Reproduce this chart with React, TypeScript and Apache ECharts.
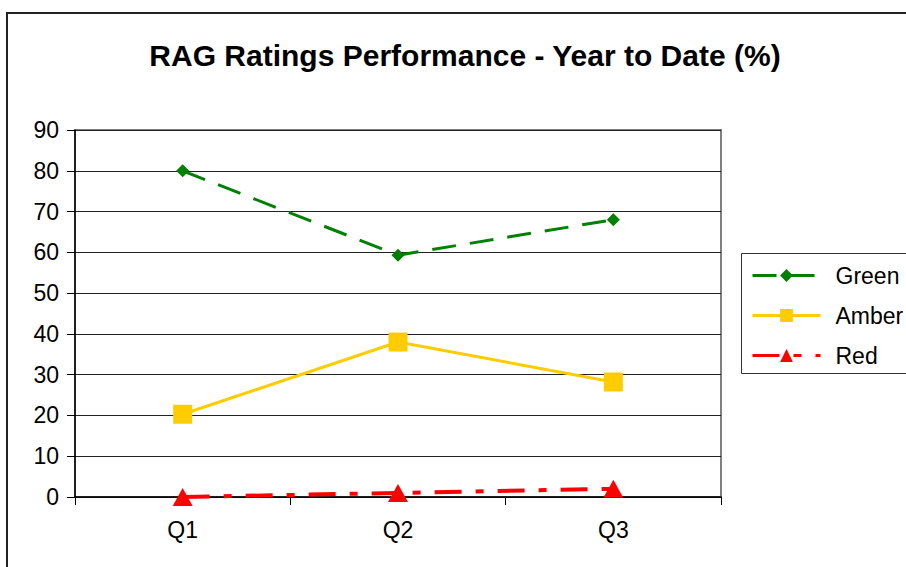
import React, { useEffect, useRef } from "react";
import * as echarts from "echarts";

const categories = ["Q1", "Q2", "Q3"];
const greenValues = [80, 59.3, 68];
const amberValues = [20.3, 38, 28.2];
const redValues = [0, 1, 2];
const titleText = "RAG Ratings Performance - Year to Date (%)";

const FONT = "'Liberation Sans', Arial, sans-serif";

export default function App() {
  const ref = useRef<HTMLDivElement>(null);
  useEffect(() => {
    if (!ref.current) return;
    const chart = echarts.init(ref.current, undefined, { renderer: "svg" });
    chart.setOption({
      animation: false,
      backgroundColor: "#fff",
      textStyle: { fontFamily: FONT },
      title: {
        text: titleText,
        left: 460,
        textAlign: "center",
        top: 35,
        textStyle: { fontSize: 30, fontWeight: "bold", color: "#000", fontFamily: FONT },
      },
      graphic: [
        {
          type: "rect",
          shape: { x: 7, y: 13, width: 1000, height: 1000 },
          style: { fill: "none", stroke: "#222", lineWidth: 2 },
          silent: true,
        },
        {
          type: "rect",
          shape: { x: 741.5, y: 253.5, width: 300, height: 120 },
          style: { fill: "none", stroke: "#333", lineWidth: 1 },
          silent: true,
        },
      ],
      legend: {
        orient: "vertical",
        left: 741,
        top: 258,
        padding: [6, 10, 6, 10],
        itemWidth: 68,
        itemHeight: 16,
        itemGap: 17,
        lineStyle: { width: 3 },
        textStyle: { fontSize: 23, color: "#000", fontFamily: FONT, padding: [0, 0, 0, 10] },
        data: ["Green", "Amber", "Red"],
      },
      grid: {
        left: 75,
        top: 130,
        width: 646,
        height: 367,
        show: true,
        borderColor: "#808080",
        borderWidth: 2,
        containLabel: false,
      },
      xAxis: {
        type: "category",
        data: categories,
        boundaryGap: true,
        axisLine: { lineStyle: { color: "#000", width: 1.5 } },
        axisTick: { show: true, length: 8, lineStyle: { color: "#000" } },
        axisLabel: { fontSize: 23, color: "#000", margin: 21, fontFamily: FONT },
        splitLine: { show: false },
      },
      yAxis: {
        type: "value",
        min: 0,
        max: 90,
        interval: 10,
        axisLine: { show: true, lineStyle: { color: "#000", width: 1.5 } },
        axisTick: { show: true, length: 8, lineStyle: { color: "#000" } },
        axisLabel: { fontSize: 23, color: "#000", margin: 16, fontFamily: FONT },
        splitLine: { show: true, lineStyle: { color: "#222", width: 1 } },
      },
      series: [
        {
          name: "Green",
          type: "line",
          data: greenValues,
          symbol: "diamond",
          symbolSize: 13,
          color: "#008000",
          lineStyle: { color: "#008000", width: 3, type: [24, 14] },
          itemStyle: { color: "#008000" },
        },
        {
          name: "Amber",
          type: "line",
          data: amberValues,
          symbol: "rect",
          symbolSize: 19,
          color: "#FFCC00",
          lineStyle: { color: "#FFCC00", width: 3, type: "solid" },
          itemStyle: { color: "#FFCC00" },
        },
        {
          name: "Red",
          type: "line",
          data: redValues,
          symbol: "triangle",
          symbolSize: [20, 18],
          color: "#FF0000",
          lineStyle: { color: "#FF0000", width: 4, type: [27, 14, 8, 14] },
          itemStyle: { color: "#FF0000" },
        },
      ],
    });
    return () => chart.dispose();
  }, []);
  return (
    <div
      ref={ref}
      style={{ position: "fixed", left: 0, top: 0, width: 906, height: 567 }}
    />
  );
}
